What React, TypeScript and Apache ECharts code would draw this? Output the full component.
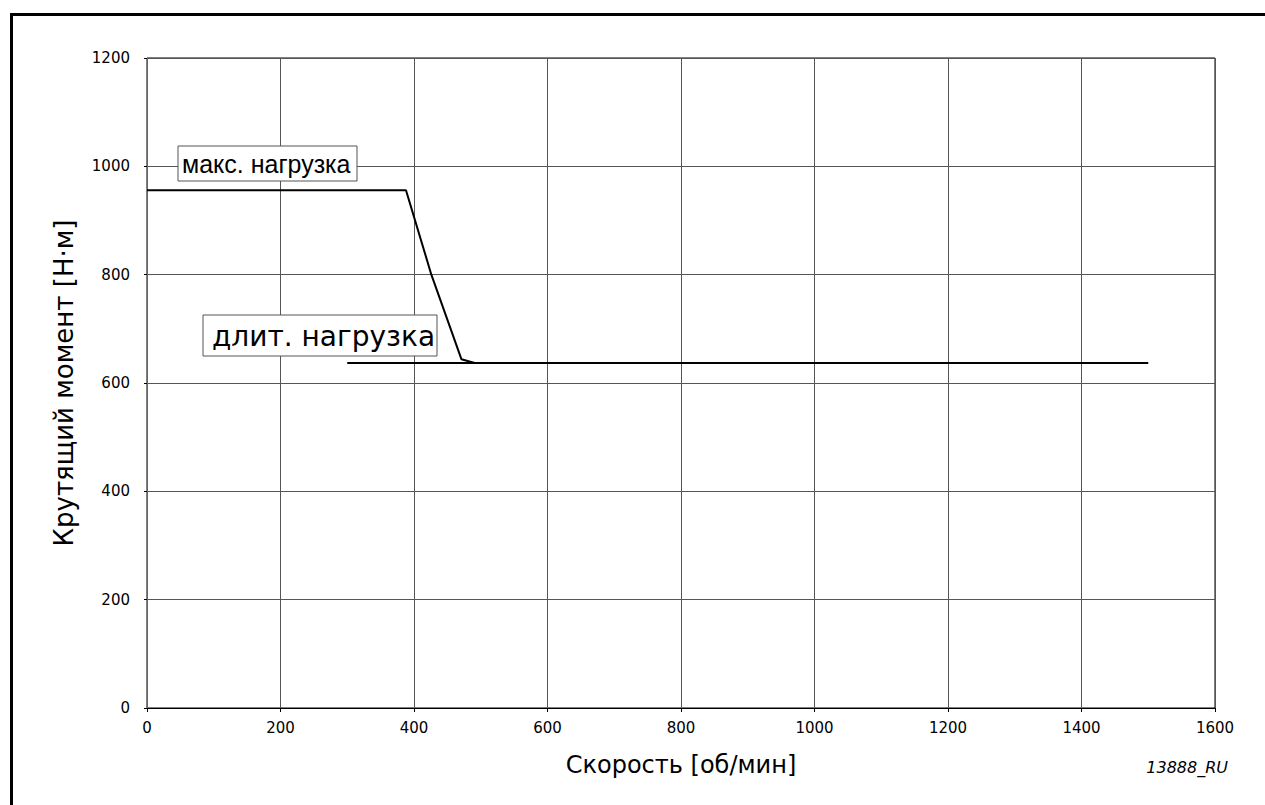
import React, { useEffect, useRef } from "react";
import * as echarts from "echarts";

const xTicks = [0, 200, 400, 600, 800, 1000, 1200, 1400, 1600];
const yTicks = [0, 200, 400, 600, 800, 1000, 1200];
const maxLoad: [number, number][] = [
  [0, 956],
  [388, 956],
  [426, 800],
  [471, 644],
  [491, 637],
];
const contLoad: [number, number][] = [
  [300, 637],
  [1500, 637],
];
const xName = "Скорость [об/мин]";
const yName = "Крутящий момент [Н·м]";
const maxLabel = "макс. нагрузка";
const contLabel = "длит. нагрузка";
const figId = "13888_RU";

export default function App() {
  const ref = useRef<HTMLDivElement>(null);
  useEffect(() => {
    if (!ref.current) return;
    const chart = echarts.init(ref.current, null, { renderer: "svg" });
    const font = "'DejaVu Sans', Verdana, sans-serif";
    chart.setOption({
      animation: false,
      backgroundColor: "#fff",
      grid: {
        left: 147,
        top: 58,
        right: 50,
        bottom: 97,
        show: true,
        borderColor: "#000",
        borderWidth: 1,
      },
      xAxis: {
        type: "value",
        min: xTicks[0],
        max: xTicks[xTicks.length - 1],
        interval: 200,
        name: xName,
        nameLocation: "middle",
        nameGap: 45,
        nameTextStyle: { fontFamily: font, fontSize: 24, color: "#000" },
        axisLine: { show: true, lineStyle: { color: "#000", width: 1 } },
        axisTick: { show: true, length: 4, lineStyle: { color: "#000" } },
        axisLabel: {
          fontFamily: font,
          fontSize: 15,
          color: "#000",
          margin: 12,
          formatter: (v: number) => String(v),
        },
        splitLine: { show: true, lineStyle: { color: "#555", width: 1 } },
      },
      yAxis: {
        type: "value",
        min: yTicks[0],
        max: yTicks[yTicks.length - 1],
        interval: 200,
        name: yName,
        nameLocation: "middle",
        nameGap: 70,
        nameTextStyle: { fontFamily: font, fontSize: 26, color: "#000" },
        axisLine: { show: true, lineStyle: { color: "#666", width: 1 } },
        axisTick: { show: true, length: 3, lineStyle: { color: "#000" } },
        axisLabel: {
          fontFamily: font,
          fontSize: 15,
          color: "#000",
          margin: 17,
          formatter: (v: number) => String(v),
        },
        splitLine: { show: true, lineStyle: { color: "#555", width: 1 } },
      },
      series: [
        {
          type: "line",
          data: maxLoad,
          showSymbol: false,
          symbol: "none",
          lineStyle: { color: "#000", width: 2 },
          z: 5,
        },
        {
          type: "line",
          data: contLoad,
          showSymbol: false,
          symbol: "none",
          lineStyle: { color: "#000", width: 2 },
          z: 5,
        },
      ],
      graphic: [
        { type: "rect", shape: { x: 10, y: 13, width: 1255, height: 3 }, style: { fill: "#000" } },
        { type: "rect", shape: { x: 10, y: 13, width: 3, height: 792 }, style: { fill: "#000" } },
        {
          type: "rect",
          z: 10,
          shape: { x: 178, y: 146, width: 179, height: 35 },
          style: { fill: "#fff", stroke: "#555", lineWidth: 1 },
        },
        {
          type: "text",
          z: 11,
          x: 182,
          y: 164,
          style: {
            text: maxLabel,
            fontFamily: "'Liberation Sans', Arial, sans-serif",
            fontSize: 25,
            fill: "#000",
            verticalAlign: "middle",
            align: "left",
          },
        },
        {
          type: "rect",
          z: 10,
          shape: { x: 203, y: 315, width: 234, height: 41 },
          style: { fill: "#fff", stroke: "#555", lineWidth: 1 },
        },
        {
          type: "text",
          z: 11,
          x: 212,
          y: 336,
          style: {
            text: contLabel,
            fontFamily: font,
            fontSize: 28,
            fill: "#000",
            verticalAlign: "middle",
            align: "left",
          },
        },
        {
          type: "text",
          x: 1228,
          y: 767,
          style: {
            text: figId,
            fontFamily: font,
            fontStyle: "italic",
            fontSize: 16,
            fill: "#000",
            verticalAlign: "middle",
            align: "right",
          },
        },
      ],
    });
    return () => chart.dispose();
  }, []);
  return (
    <div
      ref={ref}
      style={{ position: "fixed", left: 0, top: 0, width: 1265, height: 805, background: "#fff" }}
    />
  );
}
